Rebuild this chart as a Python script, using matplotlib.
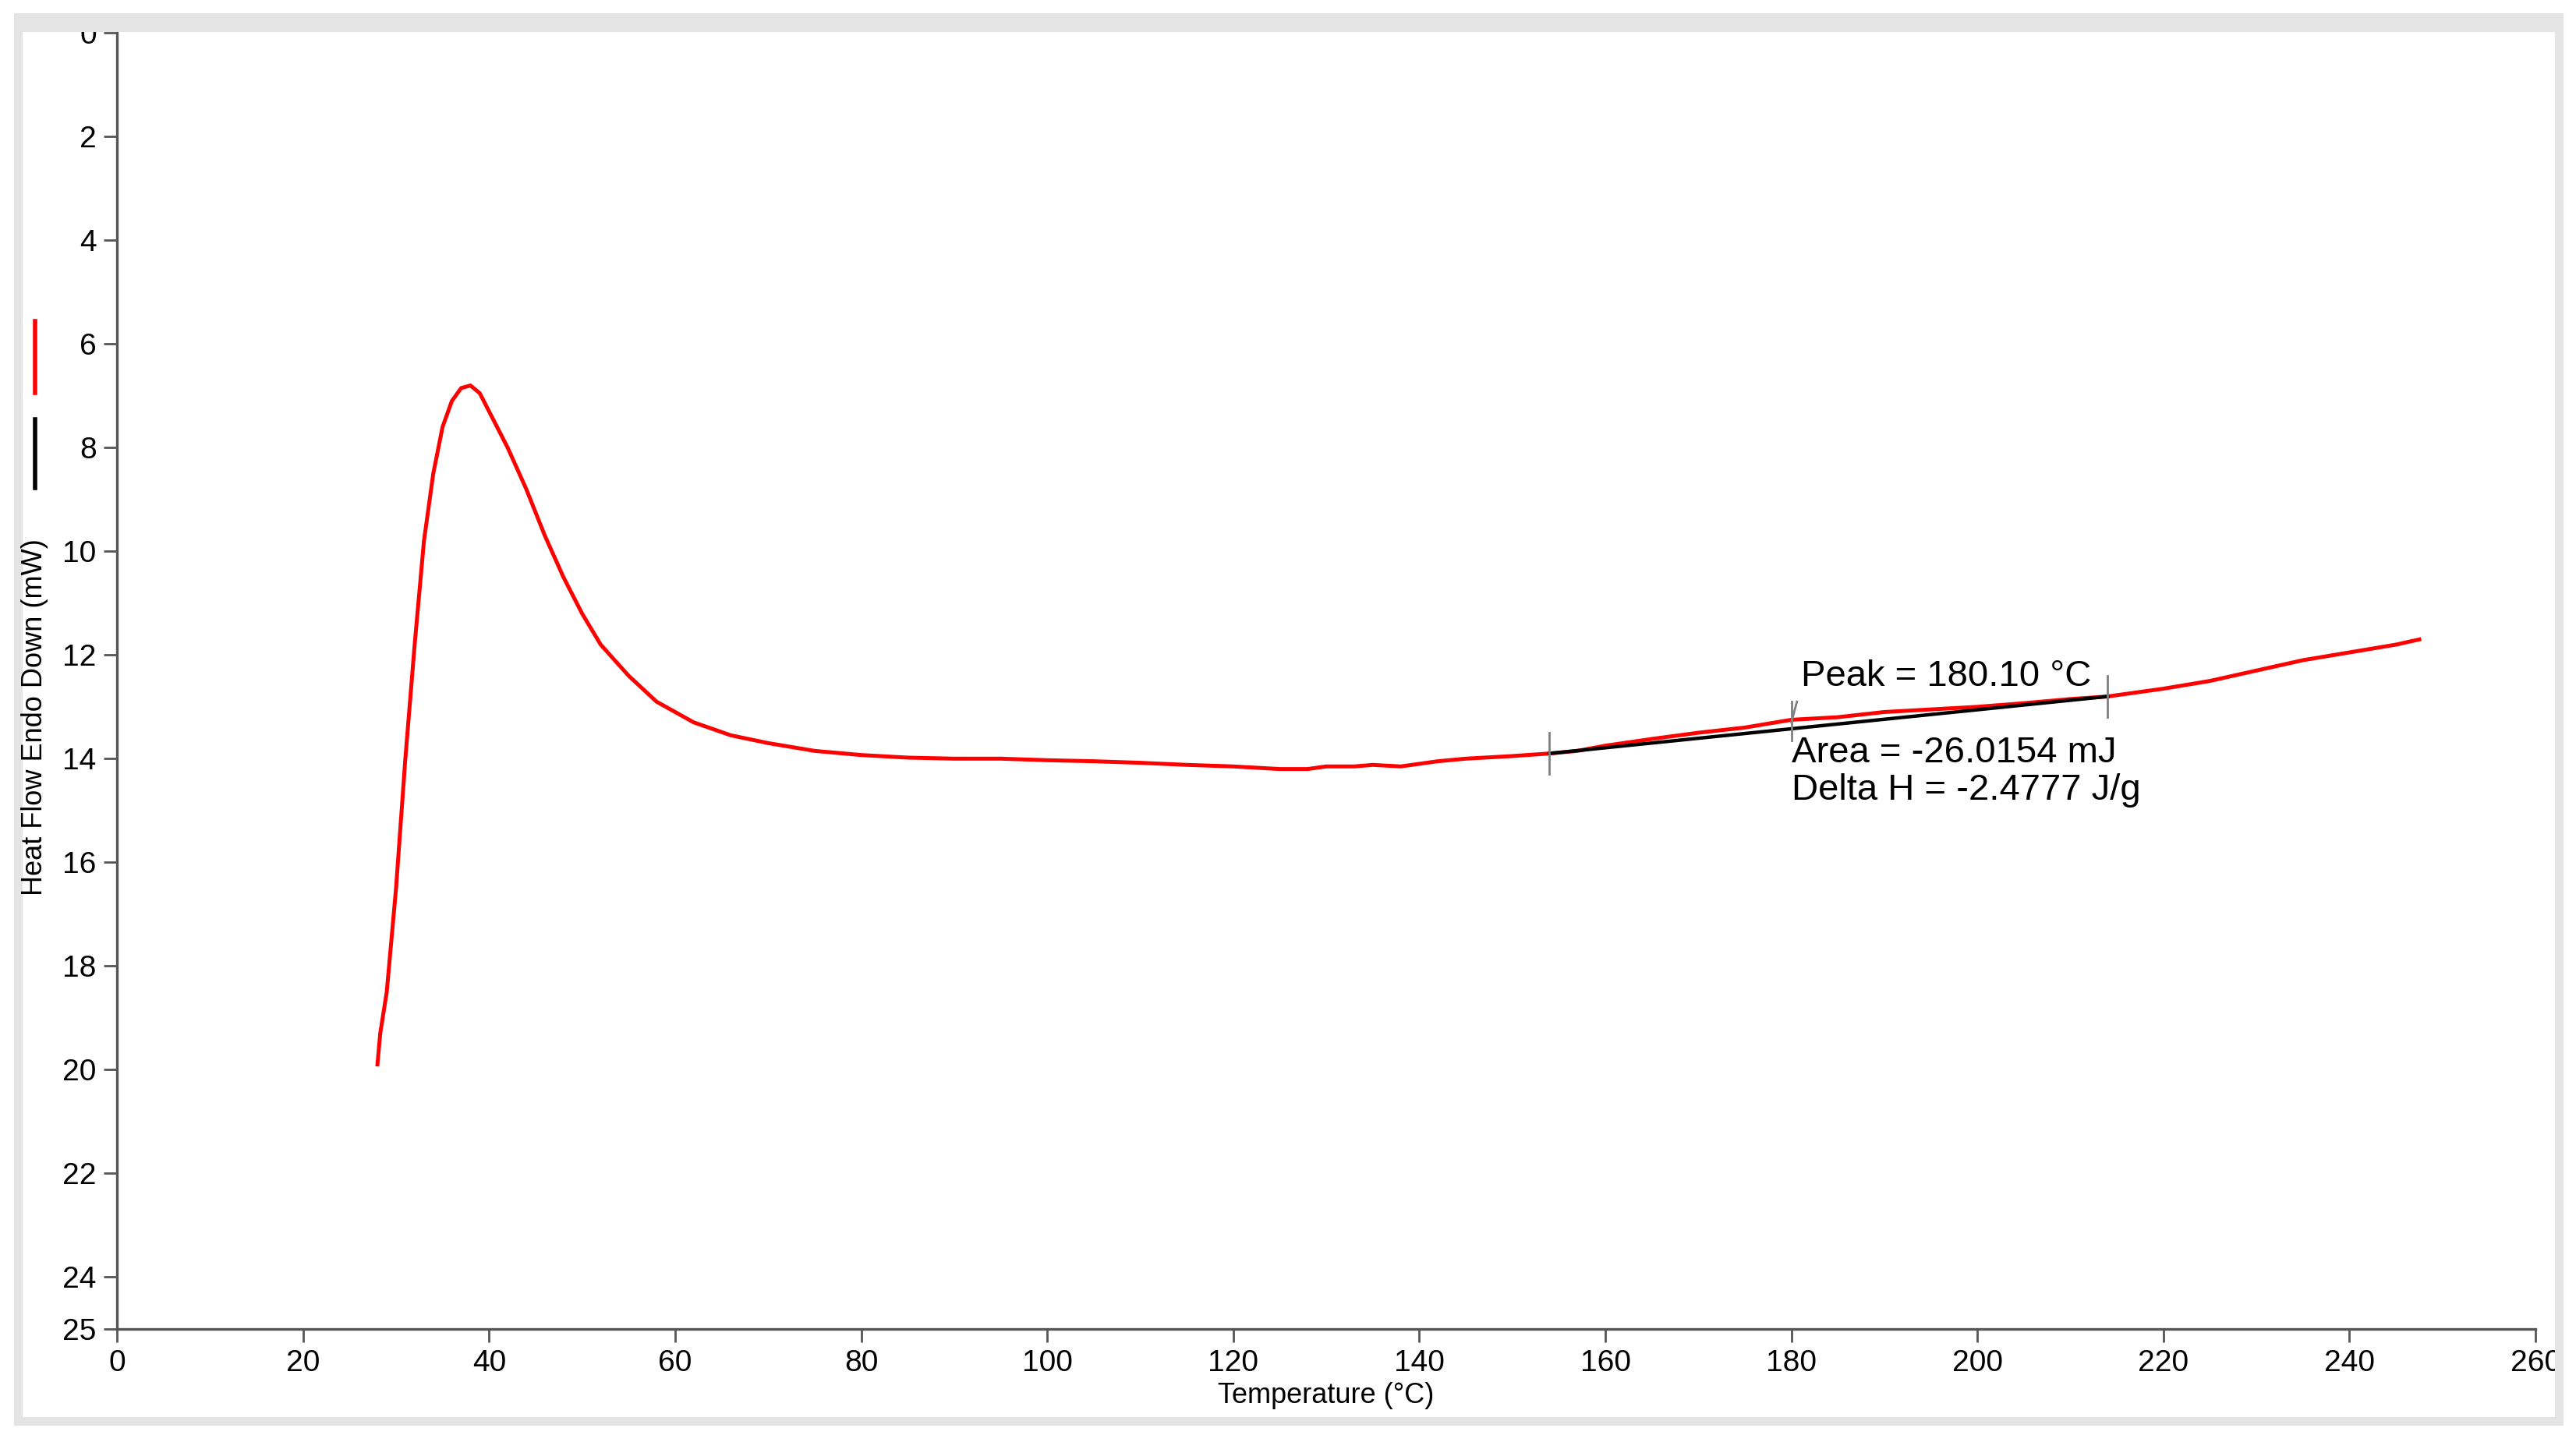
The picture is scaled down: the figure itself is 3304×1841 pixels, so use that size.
import numpy as np
import matplotlib.pyplot as plt
from matplotlib.lines import Line2D
from matplotlib.patches import Rectangle

plt.rcParams["font.family"] = ["Liberation Sans", "DejaVu Sans"]

# DSC trace: temperature (°C) vs heat flow (mW)
temp = [28, 28.3, 29, 30, 31, 32, 33, 34, 35, 36, 37, 38, 39, 40, 42, 44, 46,
        48, 50, 52, 55, 58, 62, 66, 70, 75, 80, 85, 90, 95, 100, 105, 110, 115,
        120, 125, 128, 130, 133, 135, 138, 140, 142, 145, 150, 154, 157, 160,
        165, 170, 175, 180, 185, 190, 195, 200, 205, 210, 214, 220, 225, 230,
        235, 240, 245, 247.5]
heat = [19.9, 19.3, 18.5, 16.5, 14.0, 11.8, 9.8, 8.5, 7.6, 7.1, 6.85, 6.8,
        6.95, 7.3, 8.0, 8.8, 9.7, 10.5, 11.2, 11.8, 12.4, 12.9, 13.3, 13.55,
        13.7, 13.85, 13.93, 13.98, 14.0, 14.0, 14.03, 14.05, 14.08, 14.12,
        14.15, 14.2, 14.2, 14.15, 14.15, 14.12, 14.15, 14.1, 14.05, 14.0,
        13.95, 13.9, 13.85, 13.75, 13.62, 13.5, 13.4, 13.25, 13.2, 13.1,
        13.05, 13.0, 12.93, 12.85, 12.8, 12.65, 12.5, 12.3, 12.1, 11.95,
        11.8, 11.7]

base_t = [154, 214]
base_h = [13.9, 12.8]
peak_t = 180.1

fig = plt.figure(figsize=(16.525, 9.205), dpi=200)
fig.add_artist(Rectangle((0.007, 0.01), 0.986, 0.978, transform=fig.transFigure,
                         fill=False, ec="#e4e4e4", lw=4))
fig.add_artist(Rectangle((0.007, 0.978), 0.986, 0.012, transform=fig.transFigure,
                         fc="#e4e4e4", ec="none"))
ax = fig.add_axes([0.0454, 0.074, 0.9386, 0.903])

ax.plot(temp, heat, color="red", lw=1.8)
ax.plot(base_t, base_h, color="black", lw=1.6)
# limit / peak markers
ax.plot([154, 154], [13.5, 14.3], color="grey", lw=1.0)
ax.plot([214, 214], [12.4, 13.2], color="grey", lw=1.0)
ax.plot([180, 180], [12.9, 13.65], color="grey", lw=1.0)
ax.plot([180, 180.6], [13.3, 12.9], color="grey", lw=1.0)

ax.text(181, 12.75, f"Peak = {peak_t:.2f} °C", fontsize=17, va="bottom", ha="left")
ax.text(180, 14.25, "Area = -26.0154 mJ\nDelta H = -2.4777 J/g", fontsize=17,
        va="center", ha="left", linespacing=1.1)

ax.set_xlim(0, 260)
ax.set_ylim(25, 0)
ax.set_xticks(np.arange(0, 261, 20))
ax.set_yticks(list(range(0, 25, 2)) + [25])
for s in ("top", "right"):
    ax.spines[s].set_visible(False)
for s in ("left", "bottom"):
    ax.spines[s].set_color("#555555")
    ax.spines[s].set_linewidth(1.2)
ax.tick_params(labelsize=14, color="#555555", length=6, width=1.0)
ax.set_xlabel("Temperature (°C)", fontsize=13, labelpad=2)

fig.text(0.0135, 0.50, "Heat Flow Endo Down (mW)", rotation=90, fontsize=13,
         ha="center", va="center")
fig.add_artist(Line2D([0.0135, 0.0135], [0.726, 0.776], color="red", lw=2))
fig.add_artist(Line2D([0.0135, 0.0135], [0.66, 0.708], color="black", lw=2))

fig.savefig("out.png", dpi=200)
